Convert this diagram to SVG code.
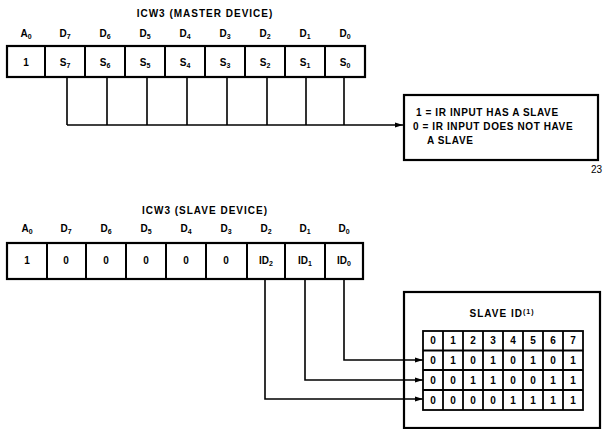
<svg xmlns="http://www.w3.org/2000/svg" width="604" height="429" viewBox="0 0 604 429">
<style>
text{font-family:"Liberation Sans",Arial,sans-serif;font-weight:bold;fill:#000}
.t{font-size:10px;letter-spacing:1px}
.l{font-size:10px;text-anchor:middle}
.c{font-size:10px;text-anchor:middle}
.s{font-size:7px}
.box{fill:#fff;stroke:#000;stroke-width:2.2}
.cell{fill:none;stroke:#000;stroke-width:2}
.ln{fill:none;stroke:#000;stroke-width:1.6}
.tb{fill:none;stroke:#000;stroke-width:1.8}
.n{font-size:10px;text-anchor:middle}
</style>
<defs>
<marker id="ar" markerWidth="8" markerHeight="6" refX="8" refY="3" orient="auto" markerUnits="userSpaceOnUse">
<path d="M0,0.5 L8,3 L0,5.5 z" fill="#000"/>
</marker>
</defs>

<g id="master-register">
<text class="t" x="205" y="17" text-anchor="middle">ICW3 (MASTER DEVICE)</text>
<g class="l">
<text x="26" y="37">A<tspan class="s" dy="2">0</tspan></text>
<text x="65" y="37">D<tspan class="s" dy="2">7</tspan></text>
<text x="105" y="37">D<tspan class="s" dy="2">6</tspan></text>
<text x="145" y="37">D<tspan class="s" dy="2">5</tspan></text>
<text x="185" y="37">D<tspan class="s" dy="2">4</tspan></text>
<text x="225" y="37">D<tspan class="s" dy="2">3</tspan></text>
<text x="265" y="37">D<tspan class="s" dy="2">2</tspan></text>
<text x="305" y="37">D<tspan class="s" dy="2">1</tspan></text>
<text x="345" y="37">D<tspan class="s" dy="2">0</tspan></text>
</g>
<rect class="box" x="7" y="46" width="358" height="31"/>
<path class="cell" d="M45,46V77M85,46V77M125,46V77M165,46V77M205,46V77M245,46V77M285,46V77M325,46V77"/>
<g class="c">
<text x="26" y="66">1</text>
<text x="65" y="66">S<tspan class="s" dy="2">7</tspan></text>
<text x="105" y="66">S<tspan class="s" dy="2">6</tspan></text>
<text x="145" y="66">S<tspan class="s" dy="2">5</tspan></text>
<text x="185" y="66">S<tspan class="s" dy="2">4</tspan></text>
<text x="225" y="66">S<tspan class="s" dy="2">3</tspan></text>
<text x="265" y="66">S<tspan class="s" dy="2">2</tspan></text>
<text x="305" y="66">S<tspan class="s" dy="2">1</tspan></text>
<text x="345" y="66">S<tspan class="s" dy="2">0</tspan></text>
</g>
</g>

<g id="master-legend">
<rect class="box" x="404" y="95" width="194" height="65"/>
<text class="t" x="416" y="116" style="letter-spacing:0.6px">1 = IR INPUT HAS A SLAVE</text>
<text class="t" x="413" y="130" style="letter-spacing:0.6px">0 = IR INPUT DOES NOT HAVE</text>
<text class="t" x="427" y="144" style="letter-spacing:0.6px">A SLAVE</text>
</g>

<text x="591" y="173" style="font-size:10px;font-weight:normal">23</text>

<g id="slave-register">
<text class="t" x="205" y="214" text-anchor="middle">ICW3 (SLAVE DEVICE)</text>
<g class="l">
<text x="27" y="232">A<tspan class="s" dy="2">0</tspan></text>
<text x="66" y="232">D<tspan class="s" dy="2">7</tspan></text>
<text x="106" y="232">D<tspan class="s" dy="2">6</tspan></text>
<text x="146" y="232">D<tspan class="s" dy="2">5</tspan></text>
<text x="186" y="232">D<tspan class="s" dy="2">4</tspan></text>
<text x="226" y="232">D<tspan class="s" dy="2">3</tspan></text>
<text x="266" y="232">D<tspan class="s" dy="2">2</tspan></text>
<text x="305" y="232">D<tspan class="s" dy="2">1</tspan></text>
<text x="344" y="232">D<tspan class="s" dy="2">0</tspan></text>
</g>
<rect class="box" x="7" y="243" width="356" height="36"/>
<path class="cell" d="M47,243V279M86,243V279M126,243V279M166,243V279M206,243V279M247,243V279M285,243V279M325,243V279"/>
<g class="c">
<text x="27" y="264">1</text>
<text x="66" y="264">0</text>
<text x="106" y="264">0</text>
<text x="146" y="264">0</text>
<text x="186" y="264">0</text>
<text x="226" y="264">0</text>
<text x="266" y="264">ID<tspan class="s" dy="2">2</tspan></text>
<text x="305" y="264">ID<tspan class="s" dy="2">1</tspan></text>
<text x="344" y="264">ID<tspan class="s" dy="2">0</tspan></text>
</g>
</g>

<g id="slave-id-table">
<rect class="box" x="404" y="292" width="196" height="136"/>
<text class="t" x="502" y="317" text-anchor="middle">SLAVE ID<tspan class="s" dy="-3">(1)</tspan></text>
<rect class="tb" x="423" y="331" width="160" height="79" fill="#fff"/>
<path class="tb" d="M443,331V410M463,331V410M483,331V410M503,331V410M523,331V410M543,331V410M563,331V410M423,350.5H583M423,370H583M423,390H583"/>
<g class="n">
<text x="433" y="344">0</text><text x="453" y="344">1</text><text x="473" y="344">2</text><text x="493" y="344">3</text><text x="513" y="344">4</text><text x="533" y="344">5</text><text x="553" y="344">6</text><text x="573" y="344">7</text>
<text x="433" y="364">0</text><text x="453" y="364">1</text><text x="473" y="364">0</text><text x="493" y="364">1</text><text x="513" y="364">0</text><text x="533" y="364">1</text><text x="553" y="364">0</text><text x="573" y="364">1</text>
<text x="433" y="384">0</text><text x="453" y="384">0</text><text x="473" y="384">1</text><text x="493" y="384">1</text><text x="513" y="384">0</text><text x="533" y="384">0</text><text x="553" y="384">1</text><text x="573" y="384">1</text>
<text x="433" y="404">0</text><text x="453" y="404">0</text><text x="473" y="404">0</text><text x="493" y="404">0</text><text x="513" y="404">1</text><text x="533" y="404">1</text><text x="553" y="404">1</text><text x="573" y="404">1</text>
</g>
</g>

<g id="connectors">
<path class="ln" d="M67,77V125M107,77V125M147,77V125M187,77V125M227,77V125M267,77V125M306,77V125M344,77V125"/>
<path class="ln" d="M67,125H403" marker-end="url(#ar)"/>
<path class="ln" d="M344,279V360H423" marker-end="url(#ar)"/>
<path class="ln" d="M305,279V380H423" marker-end="url(#ar)"/>
<path class="ln" d="M265,279V399H423" marker-end="url(#ar)"/>
</g>
</svg>
